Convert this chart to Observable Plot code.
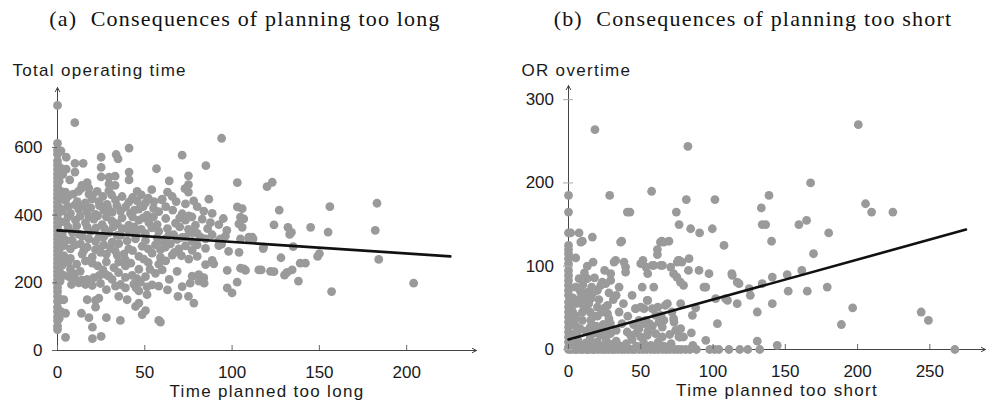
<!DOCTYPE html>
<html>
<head>
<meta charset="utf-8">
<script src="https://cdn.jsdelivr.net/npm/d3@7"></script>
<script src="https://cdn.jsdelivr.net/npm/@observablehq/plot@0.6"></script>
<style>
  html, body { margin: 0; padding: 0; background: #fff; }
  #wrap { position: relative; width: 990px; height: 410px; overflow: hidden; background: #fff; }
  .title { position: absolute; top: 6px; transform: translateX(-50%); white-space: nowrap;
           font-family: "Liberation Serif", "Times New Roman", serif; font-size: 22px; letter-spacing: 1.2px; color: #111; line-height: 26px; }
  .panel { position: absolute; top: 36px; width: 495px; height: 374px; }
</style>
</head>
<body>
<div id="wrap">
  <div class="title" id="ta" style="left:245px">(a)&nbsp; Consequences of planning too long</div>
  <div class="title" id="tb" style="left:753px">(b)&nbsp; Consequences of planning too short</div>
  <div class="panel" id="pa" style="left:0"></div>
  <div class="panel" id="pb" style="left:495px"></div>
</div>
<script>
// ---------- Data ----------
const longXLabel = "Time planned too long";
const longYLabel = "Total operating time";
const shortXLabel = "Time planned too short";
const shortYLabel = "OR overtime";

const longXTicks = [0, 50, 100, 150, 200];
const longYTicks = [0, 200, 400, 600];
const shortXTicks = [0, 50, 100, 150, 200, 250];
const shortYTicks = [0, 100, 200, 300];

const longXMax = 240, longYMax = 777;
const shortXMax = 288.5, shortYMax = 317;

const longFit = [[0, 355], [225, 278]];
const shortFit = [[0, 12], [275, 144]];

// [time planned too long, total operating time]
const longPlanned = [
  [0,724],[0,612],[0,592],[0,580],[0,560],[0,548],[0,535],[0,522],[0,510],[0,498],[0,486],[0,474],[0,462],[0,450],[0,438],
  [0,426],[0,414],[0,402],[0,390],[0,378],[0,366],[0,354],[0,342],[0,330],[0,318],[0,306],[0,294],[0,282],[0,270],[0,258],
  [0,246],[0,234],[0,222],[0,210],[0,198],[0,186],[0,174],[0,160],[0,145],[0,128],[0,115],[0,100],[0,88],[0,72],[0,62],
  [2,590],[1.5,540],[2,470],[1.5,420],[2,380],[1,300],[2,260],[1.5,205],[2,150],[1,95],[2,115],[1,500],[1.5,450],[1,350],[2,330],[1.5,230],
  [9.9,673],[94,627],[5,571],[41,598],[33.6,579],[34.7,566],[25,571],[71.4,577],[10,553],[14.7,553],[25,541],[85,546],
  [5,536],[56.7,537],[10,527],[41,527],[25,513],[29.5,512],[33,515],[75,516],[41,504],[64,501],[103,496],[7,504],
  [120,484],[123,497],[75,490],[73,478],[17,496],[14,488],[3,520],
  [4.6,468],[13.5,478],[18,462],[22.7,470],[29.4,472],[33,488],[29.5,492],[45.6,470],[54,475],[59.6,445],[75,468],[17.9,480],
  [4.6,443],[11.3,440],[16,436],[19.9,448],[23.7,440],[28.4,432],[33.2,445],[40.8,438],[45.6,442],[50.4,436],[55.2,440],
  [60,447],[65.7,455],[73.3,433],[78,442],[86.7,447],
  [2.7,412],[7.4,405],[12.2,418],[17,410],[21.8,402],[26.5,415],[31.3,408],[36.1,412],[41.8,405],[46.6,418],[51.3,400],
  [58,410],[71.4,404],[75.2,398],[83.8,412],[88.6,405],[103,424],[105.8,419],
  [4.6,380],[10.3,385],[16,378],[20.8,388],[25.6,372],[31.3,382],[34.2,375],[40.8,370],[46.6,385],[52.3,378],[57.1,372],
  [67.6,376],[73.3,385],[79,370],[82.9,388],[87.6,378],[92.4,372],[104.8,394],[106.7,389],[103.9,374],
  [2.7,345],[8.4,350],[14.1,338],[18.9,352],[23.7,335],[29.4,348],[34.2,340],[40.8,355],[44.7,330],[50.4,345],[58,352],
  [61.8,330],[66.6,342],[71.4,334],[77.1,348],[81.9,335],[88.6,342],[93.4,330],[105.8,364],[109.6,335],[111.5,335],
  [2.7,338],[8.4,326],[12.2,344],[17.9,330],[21.8,322],[26.5,336],[31.3,320],[36.1,340],[39.9,324],[44.7,345],[50.4,325],
  [57.1,333],[60,322],[63.8,340],[68.5,328],[73.3,335],[77.1,322],[80,346],[84.8,330],[92.4,325],[96.2,338],[104.8,330],
  [3.6,310],[7.4,300],[13.2,315],[17,305],[21.8,298],[26.5,312],[30.4,302],[35.1,316],[40.8,300],[48.5,308],[56.1,312],
  [59,298],[61.8,305],[64.7,315],[69.5,300],[73.3,309],[77.1,296],[80,312],[84.8,302],[92.4,310],[104,290],[98,293],[94,314],
  [3.6,280],[7.4,272],[14.1,285],[19.9,276],[24.6,290],[34.2,282],[38.9,268],[46.6,278],[49.4,270],[54.2,288],[59,275],
  [65.7,282],[75.2,270],[80,278],[84.8,254],[89.5,256],[88.6,266],
  [2.7,252],[7.4,240],[19.9,258],[32.3,245],[35.1,262],[38.9,250],[46.6,240],[68.5,234],[97.2,237],[104.8,243],
  [107.7,237],[115.3,238],[106.7,241],
  [3.6,222],[6.5,218],[10.3,212],[14.1,208],[17,210],[20.8,215],[27.5,225],[29.4,220],[31.3,210],[38.9,216],[42.8,222],
  [45.6,212],[50.4,218],[56.1,228],[77.1,220],[80.9,224],[83.8,215],
  [12.2,200],[16,195],[19.9,192],[24.6,198],[33.2,190],[36.1,195],[38.9,185],[43.7,196],[47.5,202],[51.3,188],[54.2,194],
  [63,179],[71.4,189],[76,199],[81,205],[84,199],[97.2,185],[100,170],[102.9,202],
  [3.6,150],[17,150],[21.8,148],[23.7,155],[35.1,160],[39.9,150],[46.6,176],[51.3,165],[69,160],[75,160],
  [21.8,128],[44.7,130],[46.6,140],[50.4,118],[78.1,140],[48.5,106],
  [4.6,110],[13.7,110],[18,97],[28,97],[36,89],[58,89],[59,84],[20,69],[4.6,39],[20,35],[25,42],
  [127,415],[156,425],[183,435],[124,371],[132,364],[133,343],[134,349],[145,364],[155,350],[182,355],[109.6,330],[112,330],
  [118,305],[135,307],[117.8,301],[128,274],[150,286],[149,278],[184,269],[204,199],[157,174],[138,205],
  [130,223],[131.5,231],[134.4,238],[139,258],[142,258],[122,234],[124,233],[116.7,238],
  [6,455],[9,462],[12,470],[20,458],[26,455],[31,460],[37,455],[43,452],[48,460],[52,450],[63,468],[68,440],
  [6,425],[10,430],[14,424],[19,422],[24,428],[29,420],[34,428],[39,424],[44,415],[49,425],[55,420],[62,425],[66,415],[80,425],
  [6,395],[13,398],[18,395],[23,398],[28,395],[37,392],[43,395],[49,392],[55,395],[62,390],[70,392],[77,395],[95,390],
  [6,365],[11,368],[17,365],[22,362],[27,360],[32,365],[37,360],[44,365],[48,358],[54,362],[63,360],[70,365],[75,358],[86,360],[97,355],
  [5,325],[10,312],[15,295],[24,300],[28,285],[33,295],[38,285],[43,295],[52,300],[67,290],[71,280],
  [6,260],[11,255],[16,265],[23,250],[28,262],[42,258],[52,260],[58,255],[62,265],[26,238],[53,240],[60,238],
  [9,228],[13,234],[24,222],[35,230],[64,210],[8,195],[28,180],[45,185],[58,190]
];

// [time planned too short, OR overtime]
const shortPlanned = [
  [0,185],[0,165],[0,140],[0,125],[0,120],[0,115],[0,109],[0,103],[0,95],[0,89],[0,83],[0,77],[0,71],[0,65],[0,57],
  [0,51],[0,45],[0,39],[0,33],[0,27],[0,21],[0,15],[0,9],[0,3],
  [0,0],[2,0],[4.5,0],[6,0],[8.5,0],[10,0],[12.5,0],[14,0],[16.5,0],[18,0],[20.5,0],[23,0],[25,0],[27.5,0],[30,0],[32,0],
  [34.5,0],[37,0],[39,0],[41.5,0],[44,0],[46,0],[49,0],[51.5,0],[54,0],[57,0],[59.5,0],[62,0],[65,0],[67.5,0],[70,0],
  [73,0],[75.5,0],[78,0],[81,0],[84,0],[88.5,0],[97.7,0],[101,0],[104,0],[111,0],[118.5,0],[124,0],[132.3,0],[267.3,0],
  [3,6],[6.5,11],[9,4],[12,8],[15,14],[17,5],[20,9],[24,4],[26,12],[29,6],[33,10],[36,4],[40,7],[44,12],[47,4],[52,8],
  [57,5],[62,9],[66,4],[71,7],[77.4,15],[79.6,15],[86,5],[130.6,10],[144.4,5],
  [1.5,140],[7.3,140],[9.6,130],[16.5,135],[5,110],[7.3,85],[8.4,69],[13,69],[16.5,67],[18.8,71],[23.4,81],[25.7,79],
  [29.2,91],[29.2,83],[22.3,77],[5,75],[8,72],[10,64],[12,57],[15.4,61],[20,71],[5,55],[8.5,55],[12,50],[15,45],[9.6,45],
  [9.6,35],[15.4,35],[20,51],[20,40],[24,30],[27,53],[27,43],[28,37],[29,31],[22,27],[22,17],[29,19],[33,23],[37,31],
  [40.6,21],[43,17],[5,40],[5,28],[8,25],[12,22],[15,27],[18,20],[3,45],[3,62],[13,85],[16,75],[18,86],[25,50],[31,60],
  [33,65],[35,45],[3,18],[2,30],
  [2,50],[4,35],[6,20],[7,60],[10,78],[11,92],[14,55],[17,40],[19,28],[21,60],[23,45],[26,22],[13,100],[17,105],[25,95],
  [28,68],[35,75],[38,55],[41,40],[45,30],[47,20],[55,22],[58,28],[66,35],[70,18],[85,20],[95,11],[88,50],
  [31.5,105],[38.4,105],[39.5,93],[39.5,99],[32.6,107],[44,65],[46.3,49],[50,103],[53.7,99],[54.8,91],[59,101],[65,101],
  [58,101],[63.8,101],[70.7,99],[75.3,105],[72.7,91],[75,87],[77.4,81],[79.6,77],[76,107],[78.5,105],[83,95],[83.4,109],
  [90.3,95],[97.2,91],[93.7,75],[113.3,89],[118,79],[134,79],[141,87],[51,75],[59,75],[54.5,59],[46.5,49],[52.3,49],
  [58,49],[68.4,55],[77.6,55],[85.7,41],[103,31],[101.8,61],[110,59],[116.7,55],[130.6,45],[141,55],[48.8,35],[53.4,35],
  [60.3,41],[62.6,33],[64.9,27],[73,33],[74.1,23],[77.6,25],[76.4,15],[48.8,25],[50,15],[54.5,17],[60.3,19],[64.9,15],
  [50,51],[54.8,59],[52.5,31],[56,31],[61.8,51],[64,41],[67,53],[71.6,45],[72.7,37],[108.7,61],[113,91],[116.7,81],
  [125,73],[95,75],
  [28.5,185],[57.5,190],[40.7,165],[42.5,165],[81.5,180],[101.3,180],[74.6,165],[76.5,150],[84.5,145],[90.7,140],
  [99.5,145],[36.8,130],[64.5,130],[69.5,130],[107.6,125],[61.5,120],[61.5,114],[51.5,107],[76.5,107],
  [18.3,264],[82.6,244],[133.4,170],[138.7,185],[134,150],[136.4,150],[140.5,130],[8.5,129],[36,129],[63.6,129],[65.9,129],
  [200.5,270],[167.5,200],[205.5,175],[209.7,165],[224.4,165],[159.4,150],[164.7,155],[180,140],[169.5,115],[151.3,90],
  [161.4,95],[125.8,65],[152,70],[165.2,70],[179,75],[196.6,50],[188.8,30],[244,45],[249,35]
];

// ---------- Drawing ----------
const DOT = "#9a9a9a";
const INK = "#1a1a1a";
const sans = "'Liberation Sans', Arial, sans-serif";

function panel({data, fit, xMax, yMax, xTicks, yTicks, xLabel, yLabel, m, crossTicks, ytPad, ylabDx, ylabDy}) {
  const toObj = (d) => ({x: d[0], y: d[1]});
  const pts = data.map(toObj);
  const fitPts = fit.map(toObj);
  const axes = [
    {x1: 0, y1: 0, x2: xMax, y2: 0},
    {x1: 0, y1: 0, x2: 0, y2: yMax}
  ];
  const marks = [
    Plot.arrow(axes, {x1: "x1", y1: "y1", x2: "x2", y2: "y2", stroke: "#444", strokeWidth: 1, headLength: 7, headAngle: 55}),
    Plot.dot(pts, {x: "x", y: "y", r: 4.4, fill: DOT, stroke: "none"}),
    Plot.line(fitPts, {x: "x", y: "y", stroke: "#111", strokeWidth: 2.6}),
    Plot.axisX({ticks: xTicks, tickSize: 5, dy: -5, tickFormat: () => "", label: null, stroke: "#666"}),
    Plot.axisX({ticks: xTicks, tickSize: 0, tickPadding: 15, label: null, fill: INK}),
    crossTicks
      ? Plot.axisY({ticks: yTicks, tickSize: 10, dx: 5, tickFormat: () => "", label: null, stroke: "#aaa"})
      : Plot.axisY({ticks: yTicks, tickSize: 5, tickFormat: () => "", label: null, stroke: "#666"}),
    Plot.axisY({ticks: yTicks, tickSize: 0, tickPadding: ytPad, label: null, fill: INK}),
    Plot.text([yLabel], {frameAnchor: "top-left", dx: ylabDx, dy: ylabDy, textAnchor: "start", fill: INK, fontSize: 17}),
    Plot.text([xLabel], {frameAnchor: "bottom", dy: 46.5, fill: INK, fontSize: 17})
  ];
  const svg = Plot.plot({
    width: 495, height: 374,
    marginLeft: m[0], marginRight: m[1], marginTop: m[2], marginBottom: m[3],
    x: {domain: [0, xMax]},
    y: {domain: [0, yMax]},
    style: {fontFamily: sans, fontSize: "17px", color: INK, background: "white", overflow: "visible"},
    marks
  });
  d3.select(svg).selectAll("text").each(function () {
    const t = this.textContent;
    if (t === xLabel || t === yLabel) d3.select(this).style("letter-spacing", "1.3px");
  });
  return svg;
}

document.getElementById("pa").appendChild(panel({
  data: longPlanned, fit: longFit, xMax: longXMax, yMax: longYMax,
  xTicks: longXTicks, yTicks: longYTicks, xLabel: longXLabel, yLabel: longYLabel,
  m: [57, 19, 51, 60], crossTicks: false, ytPad: 15, ylabDx: -45, ylabDy: -24
}));
document.getElementById("pb").appendChild(panel({
  data: shortPlanned, fit: shortFit, xMax: shortXMax, yMax: shortYMax,
  xTicks: shortXTicks, yTicks: shortYTicks, xLabel: shortXLabel, yLabel: shortYLabel,
  m: [73, 5, 49, 61], crossTicks: true, ytPad: 14.5, ylabDx: -47, ylabDy: -22
}));
</script>
</body>
</html>
